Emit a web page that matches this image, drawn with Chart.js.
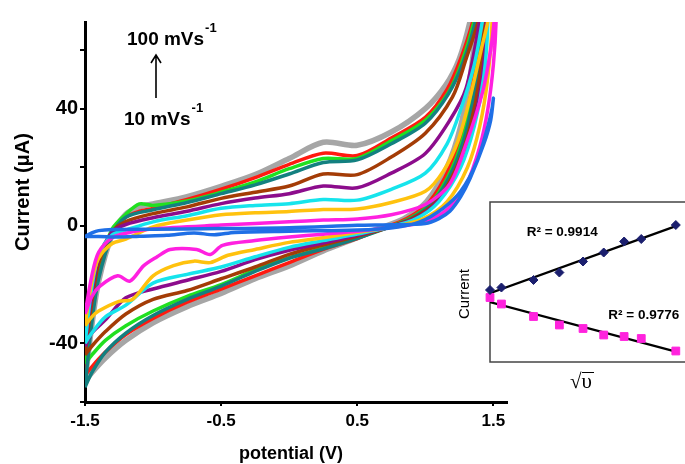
<!DOCTYPE html>
<html>
<head>
<meta charset="utf-8">
<script src="https://cdn.jsdelivr.net/npm/chart.js@4.4.1/dist/chart.umd.min.js"></script>
<style>
  html, body { margin: 0; padding: 0; background: #fff; overflow: hidden; }
  #wrap { position: relative; width: 685px; height: 464px; }
  #cvChart { position: absolute; left: 0; top: 0; }
  #insetChart { position: absolute; left: 470px; top: 192px; }
</style>
</head>
<body>
<div id="wrap">
  <canvas id="cvChart" width="685" height="464"></canvas>
  <canvas id="insetChart" width="230" height="180"></canvas>
</div>
<script>
// scan rates in mV/s, one loop each
const scanRates = [10, 20, 30, 40, 50, 60, 70, 80, 90, 100];

// [potential (V), current (uA)] : forward sweep then reverse sweep
const cv10 = [[-1.5,-3.6],[-1.45,-2.4],[-1.4,-1.6],[-1.3,-1.2],[-1.0,-1.1],[-0.5,-0.9],[0,-0.6],[0.5,0.2],[0.75,0.4],[1.0,0.8],[1.1,2.5],[1.18,5],[1.26,10],[1.33,16.3],[1.43,28],[1.48,36],[1.5,43.5],
  [1.49,40],[1.46,34],[1.38,22],[1.26,11.8],[1.13,6],[0.96,1.4],[0.76,-0.6],[0.5,-1.4],[0,-1.8],[-0.4,-2.2],[-0.55,-3],[-0.7,-2.4],[-0.9,-3.2],[-1.1,-3.5],[-1.25,-3.8],[-1.4,-3.6],[-1.5,-3.6]];
const cv20 = [[-1.5,-30],[-1.45,-17],[-1.4,-9],[-1.3,-4],[-1.2,-2.5],[-1.0,-1],[-0.5,0.3],[0,1.4],[0.25,2],[0.5,2.4],[0.75,3.8],[1.0,7.3],[1.18,14.3],[1.3,28],[1.42,45.5],[1.48,60],[1.51,72],[1.515,78],
  [1.52,70],[1.5,55],[1.46,40],[1.4,27],[1.3,14],[1.17,6],[1.0,1.5],[0.78,-0.3],[0.5,-1.8],[0.25,-2.8],[0,-3.8],[-0.25,-5],[-0.49,-6.6],[-0.58,-9.7],[-0.68,-8],[-0.875,-8],[-0.97,-10.5],[-1.07,-13.6],[-1.17,-18.8],[-1.26,-17],[-1.39,-20.5],[-1.45,-24],[-1.5,-30]];
const cv30 = [[-1.5,-34],[-1.45,-19],[-1.4,-11],[-1.3,-6],[-1.2,-4.5],[-1.0,-0.3],[-0.75,2],[-0.5,3.8],[-0.25,4.5],[0,4.9],[0.25,5.6],[0.5,5.8],[0.75,8],[1.0,11.8],[1.13,18.5],[1.24,29],[1.33,44],[1.41,60],[1.46,70],[1.475,78],
  [1.49,70],[1.46,51],[1.4,34],[1.31,20],[1.16,8.3],[0.98,2.4],[0.76,-0.3],[0.5,-2.2],[0.25,-4],[0,-5.6],[-0.25,-8],[-0.45,-10],[-0.58,-12.5],[-0.7,-12],[-0.85,-13.5],[-1.0,-17],[-1.15,-25],[-1.25,-25.7],[-1.4,-29],[-1.45,-31],[-1.5,-34]];
const cv40 = [[-1.5,-40],[-1.45,-21],[-1.4,-10],[-1.3,-3],[-1.2,-1.4],[-1.0,1.4],[-0.75,3.5],[-0.5,6],[-0.25,7],[0,7.6],[0.25,9],[0.5,8.8],[0.75,12.5],[1.0,18],[1.16,28],[1.26,39.7],[1.36,55],[1.42,70],[1.445,78],
  [1.46,70],[1.43,51],[1.36,34],[1.26,20],[1.1,8.3],[0.93,2.4],[0.73,-0.5],[0.5,-2.8],[0.25,-5],[0,-7.3],[-0.25,-10.5],[-0.5,-14],[-0.75,-16.5],[-1.0,-19.5],[-1.2,-27],[-1.35,-31],[-1.45,-36.5],[-1.5,-40]];
const cv50 = [[-1.5,-41],[-1.45,-23],[-1.4,-11],[-1.3,-2],[-1.2,0.5],[-1.0,2.8],[-0.75,5],[-0.5,7.6],[-0.25,9.5],[0,11],[0.25,13.6],[0.5,13],[0.75,18],[1.0,24.7],[1.18,36],[1.3,47],[1.4,70],[1.43,78],
  [1.45,70],[1.42,51],[1.35,34],[1.25,20],[1.09,8.3],[0.92,2.4],[0.72,-0.5],[0.5,-3.2],[0.25,-5.8],[0,-8.3],[-0.25,-11.5],[-0.5,-15.5],[-0.75,-18.5],[-1.0,-21.5],[-1.2,-24.5],[-1.35,-32],[-1.45,-36.5],[-1.5,-41]];
const cv60 = [[-1.5,-44],[-1.45,-26],[-1.4,-13],[-1.3,-2],[-1.2,1.5],[-1.0,4.2],[-0.75,6.5],[-0.5,9.4],[-0.25,11.5],[0,13.6],[0.25,17.7],[0.5,17.5],[0.75,23.5],[1.0,31.6],[1.2,44],[1.3,57],[1.39,70],[1.415,78],
  [1.43,70],[1.4,51],[1.33,34],[1.23,20],[1.08,8.3],[0.9,2.4],[0.71,-0.8],[0.5,-3.5],[0.25,-6.5],[0,-9.7],[-0.25,-14],[-0.5,-18],[-0.75,-22],[-1.0,-25],[-1.2,-30],[-1.35,-36],[-1.45,-41],[-1.5,-44]];
const cv70 = [[-1.5,-55],[-1.45,-33],[-1.4,-18],[-1.3,-3],[-1.2,3],[-1.0,5.5],[-0.75,8],[-0.5,11],[-0.25,14],[0,17.7],[0.25,21.6],[0.5,22.5],[0.75,28],[1.0,35],[1.17,45],[1.28,56],[1.37,70],[1.395,78],
  [1.41,70],[1.38,51],[1.31,34],[1.21,20],[1.06,8.3],[0.89,2.4],[0.7,-1],[0.5,-4.2],[0.25,-7.8],[0,-11],[-0.25,-15.5],[-0.5,-20.5],[-0.75,-25],[-1.0,-30.5],[-1.2,-36.5],[-1.35,-43],[-1.45,-50],[-1.5,-55]];
const cv80 = [[-1.5,-47],[-1.45,-28],[-1.4,-14],[-1.3,-1],[-1.2,4],[-1.1,7.5],[-1.0,7],[-0.75,8.5],[-0.5,11.5],[-0.25,15],[0,19.5],[0.25,23],[0.5,23],[0.75,29],[1.0,36],[1.17,45.5],[1.27,56],[1.36,70],[1.385,78],
  [1.4,70],[1.37,51],[1.3,34],[1.2,20],[1.05,8.3],[0.88,2.4],[0.69,-1],[0.5,-4],[0.25,-7.5],[0,-10.8],[-0.25,-15],[-0.5,-20],[-0.75,-24],[-1.0,-29],[-1.2,-34],[-1.35,-39],[-1.45,-44],[-1.5,-47]];
const cv90 = [[-1.5,-51],[-1.45,-31],[-1.4,-17],[-1.3,-2.5],[-1.2,3],[-1.1,5],[-1.0,6],[-0.75,9],[-0.5,12.5],[-0.25,16.5],[0,21],[0.25,24.8],[0.5,24],[0.75,30],[1.0,37],[1.16,46.5],[1.26,57],[1.35,70],[1.375,78],
  [1.39,70],[1.36,51],[1.28,34],[1.18,20],[1.03,8.3],[0.86,2.4],[0.67,-1],[0.5,-4.3],[0.25,-8],[0,-12.5],[-0.25,-17],[-0.5,-21.5],[-0.75,-26],[-1.0,-31.5],[-1.2,-37],[-1.35,-43],[-1.45,-48],[-1.5,-51]];
const cv100 = [[-1.5,-53],[-1.45,-34],[-1.4,-19],[-1.3,-3],[-1.2,4],[-1.1,6.5],[-1.0,7.5],[-0.75,10],[-0.5,13.5],[-0.25,17.5],[0,23],[0.25,28.5],[0.5,27.5],[0.75,32],[1.0,40],[1.15,48],[1.25,57],[1.33,70],[1.355,78],
  [1.37,70],[1.35,58],[1.33,51],[1.26,34],[1.16,20],[1.01,8.3],[0.84,2.4],[0.65,-1],[0.5,-4],[0.25,-8.5],[0,-13.6],[-0.25,-18],[-0.5,-23],[-0.75,-27.5],[-1.0,-33],[-1.2,-39],[-1.35,-45],[-1.45,-50],[-1.5,-53]];

const cvLoops = [cv10, cv20, cv30, cv40, cv50, cv60, cv70, cv80, cv90, cv100];
const curveColors = ['#1f6fe6', '#ff20e0', '#ffc20e', '#16e4ec', '#8c0c8c', '#a43c06', '#138080', '#20e020', '#ff1a10', '#a6a6a6'];

const xTicks = [-1.5, -0.5, 0.5, 1.5];
const yTicks = [-60, -40, -20, 0, 20, 40, 60];
const yLabelled = [-40, 0, 40];

// inset: peak current against square root of scan rate
const rootRate = [3.16, 3.58, 4.76, 5.71, 6.58, 7.34, 8.09, 8.72, 9.99];
const anodicPeak = [14.4, 14.9, 16.4, 17.9, 20.1, 21.9, 24.1, 24.6, 27.4];
const cathodicPeak = [12.9, 11.6, 9.1, 7.4, 6.7, 5.4, 5.1, 4.7, 2.2];

const FONT = '"Liberation Sans", Arial, sans-serif';

const cvLabels = {
  id: 'cvLabels',
  afterDraw(chart) {
    const ctx = chart.ctx;
    ctx.save();
    ctx.fillStyle = '#000';
    ctx.strokeStyle = '#000';

    const rateLabel = (text, x, base) => {
      ctx.font = 'bold 19px ' + FONT;
      ctx.textAlign = 'left';
      ctx.textBaseline = 'alphabetic';
      ctx.fillText(text, x, base);
      const w = ctx.measureText(text).width;
      ctx.font = 'bold 13px ' + FONT;
      ctx.fillText('-1', x + w + 1, base - 13);
    };
    rateLabel('100 mVs', 127, 45);
    rateLabel('10 mVs', 124, 125);

    // arrow from slow to fast scan
    ctx.lineWidth = 1.6;
    ctx.beginPath();
    ctx.moveTo(156, 98);
    ctx.lineTo(156, 56);
    ctx.moveTo(151, 63);
    ctx.lineTo(156, 55);
    ctx.lineTo(161, 63);
    ctx.stroke();

    // axis titles
    ctx.textAlign = 'center';
    ctx.textBaseline = 'middle';
    ctx.font = 'bold 18px ' + FONT;
    ctx.fillText('potential (V)', 291, 454);

    ctx.save();
    ctx.translate(23, 192);
    ctx.rotate(-Math.PI / 2);
    ctx.font = 'bold 20px ' + FONT;
    ctx.fillText('Current (\u03bcA)', 0, 0);
    ctx.restore();

    // inset axis names
    ctx.save();
    ctx.translate(465, 294);
    ctx.rotate(-Math.PI / 2);
    ctx.font = '15px ' + FONT;
    ctx.fillText('Current', 0, 0);
    ctx.restore();

    ctx.font = '21px "Liberation Serif", "DejaVu Serif", serif';
    ctx.fillText('\u221a\u03c5', 581, 382);
    ctx.lineWidth = 1;
    ctx.beginPath();
    ctx.moveTo(582, 372.5);
    ctx.lineTo(594, 372.5);
    ctx.stroke();
    ctx.restore();
  }
};

new Chart(document.getElementById('cvChart'), {
  type: 'scatter',
  data: {
    datasets: scanRates.map((rate, i) => ({
      label: rate + ' mV/s',
      data: cvLoops[i].map(([x, y]) => ({ x, y })),
      showLine: true,
      borderColor: curveColors[i],
      borderWidth: rate === 100 ? 5.5 : 3.5,
      pointRadius: 0,
      tension: 0.3,
      fill: false
    }))
  },
  options: {
    responsive: false,
    animation: false,
    events: [],
    layout: { padding: { top: 22, right: 178, left: 0, bottom: 0 } },
    plugins: { legend: { display: false }, tooltip: { enabled: false } },
    scales: {
      x: {
        type: 'linear',
        min: -1.5,
        max: 1.6,
        afterBuildTicks: (scale) => { scale.ticks = xTicks.map(v => ({ value: v })); },
        afterFit: (scale) => { scale.height = 62; },
        grid: { drawOnChartArea: false, drawTicks: true, tickLength: 4, color: '#000', lineWidth: 2 },
        border: { display: true, color: '#000', width: 3 },
        ticks: {
          autoSkip: false,
          maxRotation: 0,
          padding: 5,
          color: '#000',
          font: { family: FONT, size: 17, weight: 'bold' },
          callback: (v) => String(v)
        }
      },
      y: {
        type: 'linear',
        min: -60,
        max: 69.5,
        afterBuildTicks: (scale) => { scale.ticks = yTicks.map(v => ({ value: v })); },
        afterFit: (scale) => { scale.width = 85; },
        grid: { drawOnChartArea: false, drawTicks: true, tickLength: 5, color: '#000', lineWidth: 2 },
        border: { display: true, color: '#000', width: 3 },
        ticks: {
          padding: 2,
          color: '#000',
          font: { family: FONT, size: 20, weight: 'bold' },
          callback: (v) => yLabelled.includes(v) ? String(v) : ''
        }
      }
    }
  },
  plugins: [cvLabels]
});

// least squares line through the peak currents
function linFit(xs, ys) {
  const n = xs.length;
  const mx = xs.reduce((a, b) => a + b, 0) / n;
  const my = ys.reduce((a, b) => a + b, 0) / n;
  let sxy = 0, sxx = 0;
  for (let i = 0; i < n; i++) {
    sxy += (xs[i] - mx) * (ys[i] - my);
    sxx += (xs[i] - mx) * (xs[i] - mx);
  }
  const slope = sxy / sxx;
  const icept = my - slope * mx;
  const x0 = xs[0], x1 = xs[n - 1];
  return [{ x: x0, y: icept + slope * x0 }, { x: x1, y: icept + slope * x1 }];
}

const insetFrame = {
  id: 'insetFrame',
  beforeDatasetsDraw(chart) {
    const { ctx, chartArea: a } = chart;
    ctx.save();
    ctx.strokeStyle = '#444';
    ctx.lineWidth = 1.5;
    ctx.strokeRect(a.left, a.top, a.right - a.left, a.bottom - a.top);
    ctx.restore();
  },
  afterDraw(chart) {
    const { ctx, scales } = chart;
    ctx.save();
    ctx.fillStyle = '#000';
    ctx.font = 'bold 13.5px ' + FONT;
    ctx.textBaseline = 'middle';
    ctx.fillText('R\u00b2 = 0.9914', scales.x.getPixelForValue(4.51), scales.y.getPixelForValue(26));
    ctx.fillText('R\u00b2 = 0.9776', scales.x.getPixelForValue(7.51), scales.y.getPixelForValue(9.4));
    ctx.restore();
  }
};

new Chart(document.getElementById('insetChart'), {
  type: 'scatter',
  data: {
    datasets: [
      {
        data: rootRate.map((x, i) => ({ x, y: anodicPeak[i] })),
        pointStyle: 'rectRot',
        pointRadius: 4.5,
        backgroundColor: '#1b1f6e',
        borderColor: '#1b1f6e',
        borderWidth: 1,
        clip: false
      },
      {
        data: rootRate.map((x, i) => ({ x, y: cathodicPeak[i] })),
        pointStyle: 'rect',
        pointRadius: 5.5,
        backgroundColor: '#ff22dd',
        borderColor: '#ff22dd',
        borderWidth: 1,
        clip: false
      },
      {
        data: linFit(rootRate, anodicPeak),
        showLine: true,
        pointRadius: 0,
        borderColor: '#000',
        borderWidth: 2.2
      },
      {
        data: linFit(rootRate, cathodicPeak),
        showLine: true,
        pointRadius: 0,
        borderColor: '#000',
        borderWidth: 2.2
      }
    ]
  },
  options: {
    responsive: false,
    animation: false,
    events: [],
    layout: { padding: { left: 20, top: 10, right: 0, bottom: 10 } },
    plugins: { legend: { display: false }, tooltip: { enabled: false } },
    scales: {
      x: { type: 'linear', display: false, min: 3.16, max: 10.64 },
      y: { type: 'linear', display: false, min: 0, max: 32 }
    }
  },
  plugins: [insetFrame]
});
</script>
</body>
</html>
